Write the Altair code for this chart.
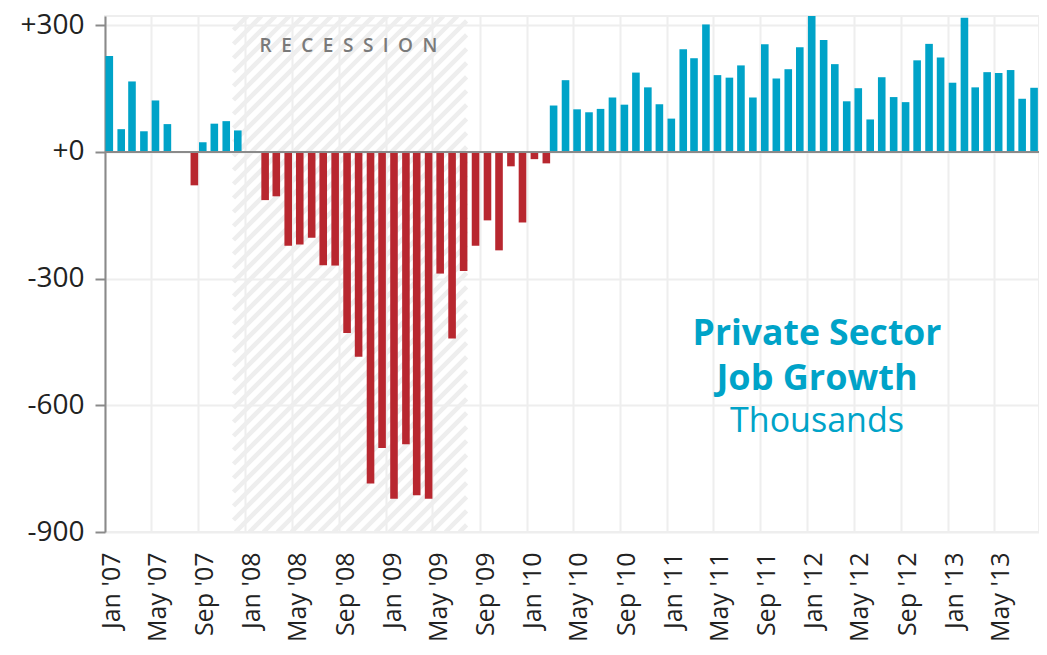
import altair as alt
import numpy as np
import pandas as pd

# ---------------- data ----------------
month_start = "2007-01-01"
month_end = "2013-08-01"
jobs = [
    227, 54, 167, 49, 122, 66, 0, -79, 23, 67, 73, 51,                       # 2007
    0, -114, -105, -222, -219, -203, -268, -269, -429, -485, -785, -701,    # 2008
    -821, -692, -813, -821, -288, -442, -282, -222, -162, -233, -34, -167,  # 2009
    -17, -27, 110, 170, 101, 94, 102, 129, 112, 188, 153, 113,              # 2010
    79, 243, 222, 302, 182, 176, 205, 129, 255, 174, 196, 248,              # 2011
    325, 265, 208, 120, 151, 77, 177, 130, 118, 217, 256, 224,              # 2012
    164, 318, 153, 189, 187, 194, 126, 152,                                 # 2013
]
recession = ["2007-12-01", "2009-07-29"]
title_lines = ["Private Sector", "Job Growth", "Thousands"]
band_label = "RECESSION"
y_ticks = [-900, -600, -300, 0, 300]

BLUE = "#00a3c8"
RED = "#b8272f"

months = pd.date_range(month_start, month_end, freq="MS")
df = pd.DataFrame({"month": months, "jobs": jobs})
pos = df[df.jobs >= 0]
neg = df[df.jobs < 0]

# ---------------- geometry ----------------
W, H = 934, 516
t0 = pd.Timestamp("2007-01-01")
t1 = pd.Timestamp("2013-08-25")
ymin, ymax = -900, 322
tspan = (t1 - t0)

# hatch lines (45 degree) inside recession band, derived from band extents
b0, b1 = pd.Timestamp(recession[0]), pd.Timestamp(recession[1])
L = (b0 - t0) / tspan * W
R = (b1 - t0) / tspan * W
rows = []
c = L
while c < R + H:
    xs = max(L, c - H)
    xe = min(R, c)
    if xe - xs > 0.5:
        rows.append({
            "hx": (t0 + (xs / W) * tspan).round("s"),
            "hx2": (t0 + (xe / W) * tspan).round("s"),
            "hy": ymax - (c - xs) / H * (ymax - ymin),
            "hy2": ymax - (c - xe) / H * (ymax - ymin),
        })
    c += 14
hatch = pd.DataFrame(rows)

xscale = alt.Scale(domain=[alt.DateTime(year=2007, month=1, date=1),
                           alt.DateTime(year=2013, month=8, date=25)],
                   nice=False, padding=0)
yscale = alt.Scale(domain=[ymin, ymax], nice=False, zero=False, padding=0)

xaxis = alt.Axis(
    format="%b '%y", labelAngle=-90, tickCount={"interval": "month", "step": 4},
    ticks=False, domain=False, labelPadding=20, labelOffset=6, grid=True,
    labelOverlap=False, labelFlush=False, title=None, labelFontSize=25,
)
yaxis = alt.Axis(
    values=y_ticks,
    labelExpr="(datum.value >= 0 ? '+' : '-') + abs(datum.value)",
    domainColor="#8a8a8a", domainWidth=2, tickColor="#8a8a8a", tickWidth=2,
    tickSize=10, labelPadding=11, grid=True, title=None, labelFontSize=28,
)

hatch_layer = alt.Chart(hatch).mark_rule(
    color="#eeeeee", strokeWidth=4.5, clip=True
).encode(
    x=alt.X("hx:T", scale=xscale, axis=xaxis),
    x2="hx2:T",
    y=alt.Y("hy:Q", scale=yscale, axis=yaxis),
    y2="hy2:Q",
)

pos_bars = alt.Chart(pos).mark_bar(
    width=7.6, xOffset=4.3, color=BLUE, clip=True
).encode(
    x=alt.X("month:T", scale=xscale, axis=xaxis),
    y=alt.Y("jobs:Q", scale=yscale, axis=yaxis),
    y2=alt.datum(0),
)

neg_bars = alt.Chart(neg).mark_bar(
    width=7.6, xOffset=7.8, color=RED, clip=True
).encode(
    x=alt.X("month:T", scale=xscale, axis=xaxis),
    y=alt.Y("jobs:Q", scale=yscale, axis=yaxis),
    y2=alt.datum(0),
)

zero_rule = alt.Chart(pd.DataFrame({"z": [0]})).mark_rule(
    color="#8a8a8a", strokeWidth=2
).encode(y=alt.Y("z:Q", scale=yscale, axis=yaxis))

def label(text, x, y, size, weight, color):
    return alt.Chart(pd.DataFrame({"t": [text]})).mark_text(
        font="Open Sans", fontSize=size, fontWeight=weight, color=color,
        align="center", baseline="alphabetic",
    ).encode(text="t:N", x=alt.value(x), y=alt.value(y))

rec_text = label("\u2002".join(band_label), 243.5, 36, 19, 600, "#7a7a7a")
t1_text = label(title_lines[0], 712, 329, 35.5, "bold", BLUE)
t2_text = label(title_lines[1], 712, 374, 36, "bold", BLUE)
t3_text = label(title_lines[2], 712, 416, 34, "normal", BLUE)

chart = alt.layer(
    hatch_layer, pos_bars, neg_bars, zero_rule, rec_text, t1_text, t2_text, t3_text
).properties(
    width=W, height=H,
    autosize=alt.AutoSizeParams(type="none"),
    padding={"left": 97, "top": 8, "right": 0, "bottom": 115},
    background="white",
).configure_view(
    stroke="#eeeeee", strokeWidth=2,
).configure_axis(
    labelFont="Open Sans", labelColor="#222222",
    gridColor="#eeeeee", gridWidth=2,
)

chart.save("out.html", embed_options={"renderer": "svg", "actions": False})
